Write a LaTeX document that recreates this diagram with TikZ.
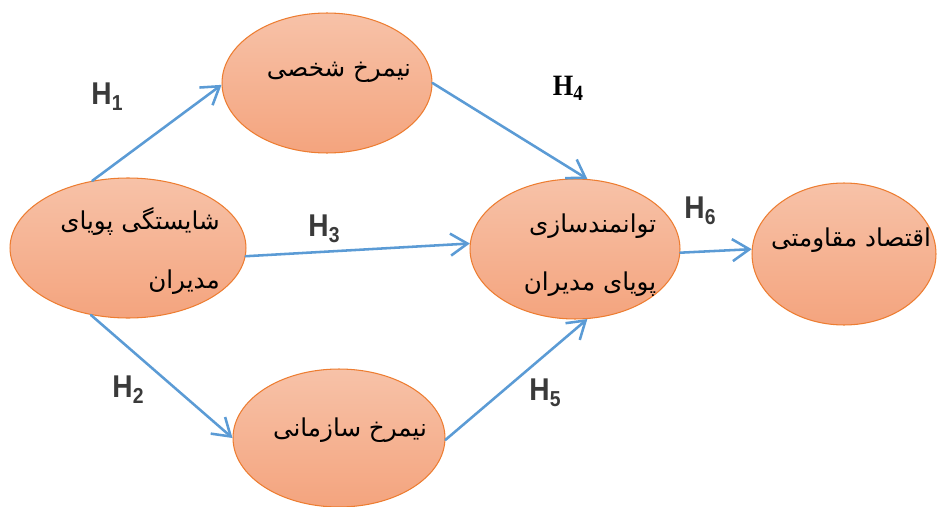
\documentclass[tikz,border=0pt]{standalone}
\usepackage{fontspec}
\usepackage{graphicx}
\usetikzlibrary{arrows.meta,shapes.geometric}
\TeXXeTstate=1
\newfontfamily\farsifont[Script=Arabic]{DejaVu Sans}
\newfontfamily\hsansfont{Liberation Sans}
\newfontfamily\hseriffont{Liberation Serif}
\definecolor{blobtop}{HTML}{F7C2A8}
\definecolor{blobbot}{HTML}{F4A47E}
\definecolor{blobedge}{HTML}{ED7D31}
\definecolor{linkblue}{HTML}{5B9BD5}
\definecolor{hgray}{HTML}{3A3A3A}
\tikzset{>={Straight Barb[length=3.4mm,width=4.4mm]}}
\tikzset{
  blob/.style={ellipse,draw=blobedge,line width=0.6pt,
               top color=blobtop,bottom color=blobbot,inner sep=0pt},
  link/.style={->,draw=linkblue,line width=1.45pt,line cap=round},
  fa/.style={font=\farsifont\fontsize{14}{14}\selectfont,
             align=right,inner sep=0pt},
  hyp/.style={font=\hsansfont\bfseries\fontsize{16}{16}\selectfont,
              text=hgray,inner sep=0pt}
}
\newcommand{\hlab}[1]{\scalebox{1}[1.12]{H\raisebox{-0.35ex}{\fontsize{11}{11}\selectfont #1}}}

\begin{document}
\begin{tikzpicture}[x=0.02cm,y=-0.02cm]
\useasboundingbox (0,0) rectangle (937,507);
% ellipses
\node[blob,minimum width=4.72cm,minimum height=2.8cm] (lead) at (128,248) {};
\node[blob,minimum width=4.2cm,minimum height=2.8cm] (pers) at (327,83) {};
\node[blob,minimum width=4.24cm,minimum height=2.76cm] (org) at (339,438) {};
\node[blob,minimum width=4.2cm,minimum height=2.8cm] (empw) at (575,249) {};
\node[blob,minimum width=3.68cm,minimum height=2.84cm] (econ) at (844,254) {};
% texts
\node[fa] (leadtxt) at (140,251) {\beginR شایستگی پویای\endR\\[0.67cm]\beginR مدیران\endR};
\node[fa] (perstxt) at (339,72) {\beginR نیمرخ شخصی\endR};
\node[fa] (orgtxt) at (350,430) {\beginR نیمرخ سازمانی\endR};
\node[fa] (empwtxt) at (590,255) {\beginR توانمندسازی\endR\\[0.63cm]\beginR پویای مدیران\endR};
\node[fa] (econtxt) at (851,240) {\beginR اقتصاد مقاومتی\endR};
% links
\draw[link] (lead.118) -- (pers.181);
\draw[link] (lead.241) -- (org.180);
\draw[link] (lead.356) -- (empw.177);
\draw[link] (pers.0) -- (empw.80);
\draw[link] (org.359) -- (empw.280);
\draw[link] (empw.358) -- (econ.177);
% hypotheses
\node[hyp] (h1) at (107,97) {\hlab{1}};
\node[hyp] (h2) at (128,390) {\hlab{2}};
\node[hyp] (h3) at (324,229) {\hlab{3}};
\node[hyp,font=\hseriffont\bfseries\fontsize{15}{15}\selectfont,text=black] (h4) at (568,88) {\hlab{4}};
\node[hyp] (h5) at (545,393) {\hlab{5}};
\node[hyp] (h6) at (700,211) {\hlab{6}};
\end{tikzpicture}
\end{document}
